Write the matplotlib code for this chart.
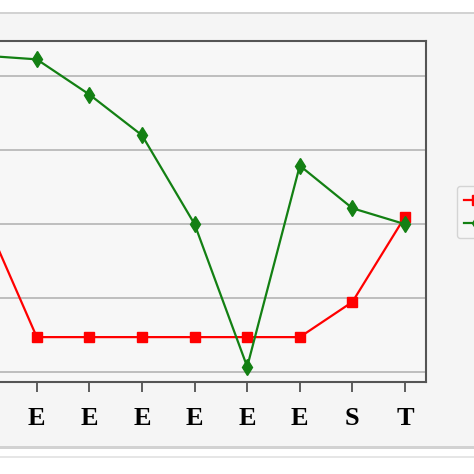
import numpy as np
import matplotlib.pyplot as plt
from matplotlib.patches import Rectangle
from matplotlib.lines import Line2D

# categories (first one sits off the left edge of the crop)
categories = ["E", "E", "E", "E", "E", "E", "E", "S", "T"]
series_red = [42, 9.5, 9.5, 9.5, 9.5, 9.5, 9.5, 19.0, 42.0]
series_green = [85.5, 84.5, 75.0, 64.0, 40.0, 1.5, 55.8, 44.3, 40.0]
red_name = "Series 1"
green_name = "Series 2"
y_ticks = [0, 20, 40, 60, 80]

W = H = 474.0
fig = plt.figure(figsize=(4.74, 4.74), dpi=100)
fig.patch.set_facecolor("white")

# panel behind the chart (screenshot-like frame)
fig.patches.append(Rectangle((0, 1 - 458 / H), 1, 2 / H, transform=fig.transFigure,
                             facecolor="#e6e6e6", edgecolor="none", zorder=-10))
fig.patches.append(Rectangle((0, 1 - 449 / H), 1, (449 - 12) / H, transform=fig.transFigure,
                             facecolor="#d2d2d2", edgecolor="none", zorder=-10))
fig.patches.append(Rectangle((0, 1 - 446 / H), 1, (446 - 14) / H, transform=fig.transFigure,
                             facecolor="#f5f5f5", edgecolor="none", zorder=-9))

# axes in pixel terms: spacing 52.6 px, last tick at 405, right edge 426
step = 52.6
x0_tick = 405 - step * (len(categories) - 1)
left_px = x0_tick - 21
ax = fig.add_axes([left_px / W, 1 - 381.5 / H, (426 - left_px) / W, (381.5 - 41.3) / H])
ax.set_zorder(1)
ax.set_facecolor("#f7f7f7")

x = np.arange(len(categories))
ax.plot(x, series_red, color="#ff0000", lw=1.6, marker="s", ms=7, label=red_name, zorder=3)
ax.plot(x, series_green, color="#138013", lw=1.6, marker="d", ms=8, label=green_name, zorder=4)

ax.set_xlim(-21 / step, len(categories) - 1 + 21 / step)
ppu = 74.07 / 20
ax.set_ylim(-(381.5 - 372.3) / ppu, (372.3 - 41.3) / ppu)
ax.set_yticks(y_ticks)
ax.yaxis.grid(True, color="#b4b4b4", lw=1.2)
ax.set_axisbelow(True)
ax.tick_params(axis="y", left=False, labelleft=False)
ax.set_xticks(x)
ax.set_xticklabels(categories, fontfamily="Liberation Serif", fontweight="bold", fontsize=19)
ax.tick_params(axis="x", length=7, width=1.2, color="#444444", pad=11.5)
for s in ax.spines.values():
    s.set_color("#555555")
    s.set_linewidth(1.5)

handles = [Line2D([], [], color="#ff0000", lw=1.6, marker="s", ms=7),
           Line2D([], [], color="#138013", lw=1.6, marker="d", ms=8)]
leg = fig.legend(handles, [red_name, green_name], loc="upper left",
                 bbox_to_anchor=(457 / W, 1 - 186 / H), frameon=True, fontsize=11,
                 handlelength=1.7, borderpad=0.45, borderaxespad=0,
                 labelspacing=0.55, handletextpad=0.5)
leg.set_zorder(5)
leg.get_frame().set_edgecolor("#cccccc")
leg.get_frame().set_facecolor("#f7f7f7")

fig.savefig("out.png", dpi=100)
